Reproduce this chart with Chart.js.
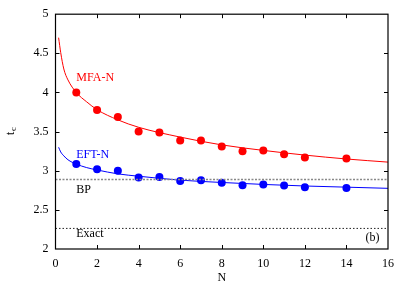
<!DOCTYPE html>
<html>
<head>
<meta charset="utf-8">
<script src="https://cdn.jsdelivr.net/npm/chart.js@4.4.0/dist/chart.umd.min.js"></script>
<style>
  html, body { margin: 0; padding: 0; background: #fff; }
  #wrap { width: 409px; height: 286px; }
</style>
</head>
<body>
<div id="wrap"><canvas id="myChart" width="409" height="286"></canvas></div>
<script>
// 데이터
var sizeN = [1, 2, 3, 4, 5, 6, 7, 8, 9, 10, 11, 12, 14];
var mfaValues = [4.00, 3.775, 3.685, 3.50, 3.49, 3.385, 3.385, 3.31, 3.25, 3.26, 3.21, 3.17, 3.155];
var eftValues = [3.085, 3.02, 3.00, 2.915, 2.92, 2.87, 2.88, 2.845, 2.815, 2.825, 2.81, 2.79, 2.78];

// 맞춤 곡선 (그림에서 읽은 점)
var fitN = [0.15, 0.25, 0.4, 0.6, 1, 1.5, 2, 3, 4, 6, 8, 10, 12, 14, 16];
var mfaFit = [4.70, 4.51, 4.30, 4.16, 4.00, 3.88, 3.78, 3.65, 3.555, 3.43, 3.33, 3.26, 3.20, 3.15, 3.11];
var eftFit = [3.30, 3.24, 3.19, 3.14, 3.085, 3.04, 3.01, 2.96, 2.93, 2.88, 2.85, 2.825, 2.805, 2.79, 2.775];

var bpLevel = 2.888;
var exactLevel = 2.263;
var xRange = [0, 16];

var xTicks = [0, 2, 4, 6, 8, 10, 12, 14, 16];
var yTicks = [2, 2.5, 3, 3.5, 4, 4.5, 5];

var FONT = 'Liberation Serif';

function toPoints(xs, ys) {
	return xs.map(function(x, i) { return { x: x, y: ys[i] }; });
}

// 안쪽 눈금, 글자 그리기
var decorPlugin = {
	id: 'decor',
	afterDraw: function(chart) {
		var c = chart.ctx;
		var xs = chart.scales.x, ys = chart.scales.y;
		var a = chart.chartArea;
		c.save();
		c.strokeStyle = '#000';
		c.lineWidth = 1;
		c.beginPath();
		xTicks.forEach(function(v) {
			var px = Math.round(xs.getPixelForValue(v)) + 0.5;
			if (v > xRange[0] && v < xRange[1]) {
				c.moveTo(px, a.bottom); c.lineTo(px, a.bottom - 4);
				c.moveTo(px, a.top); c.lineTo(px, a.top + 4);
			}
		});
		yTicks.forEach(function(v) {
			var py = Math.round(ys.getPixelForValue(v)) + 0.5;
			if (v > 2 && v < 5) {
				c.moveTo(a.left, py); c.lineTo(a.left + 4, py);
				c.moveTo(a.right, py); c.lineTo(a.right - 4, py);
			}
		});
		c.stroke();
		c.lineWidth = 1.2;
		c.strokeRect(a.left, a.top, a.right - a.left, a.bottom - a.top);

		// 곡선 이름
		c.font = '12px "' + FONT + '"';
		c.textAlign = 'left';
		c.textBaseline = 'middle';
		c.fillStyle = '#ff0000';
		c.fillText('MFA-N', xs.getPixelForValue(1), ys.getPixelForValue(4.19));
		c.fillStyle = '#0000ff';
		c.fillText('EFT-N', xs.getPixelForValue(1), ys.getPixelForValue(3.20));
		c.fillStyle = '#000';
		c.fillText('BP', xs.getPixelForValue(1), ys.getPixelForValue(2.75));
		c.fillText('Exact', xs.getPixelForValue(1), ys.getPixelForValue(2.195));
		c.textAlign = 'center';
		c.fillText('(b)', xs.getPixelForValue(15.25), ys.getPixelForValue(2.14));

		// 축 제목
		c.font = '12px "' + FONT + '"';
		c.fillText('N', (a.left + a.right) / 2, 278);
		c.save();
		c.translate(11, 131);
		c.rotate(-Math.PI / 2);
		c.textAlign = 'left';
		c.fillText('t', -4, 0);
		c.font = '9px "' + FONT + '"';
		c.fillText('c', 0, 3);
		c.restore();
		c.restore();
	}
};

var ctx = document.getElementById('myChart');
var data = {
	datasets: [
		{
			label: 'Exact',
			data: toPoints(xRange, [exactLevel, exactLevel]),
			showLine: true,
			borderColor: '#222',
			borderWidth: 1,
			borderDash: [1.5, 2],
			pointRadius: 0
		},
		{
			label: 'BP',
			data: toPoints(xRange, [bpLevel, bpLevel]),
			showLine: true,
			borderColor: '#888',
			borderWidth: 1.5,
			borderDash: [2, 1.5],
			pointRadius: 0
		},
		{
			label: 'MFA-N fit',
			data: toPoints(fitN, mfaFit),
			showLine: true,
			borderColor: '#ff0000',
			borderWidth: 1,
			pointRadius: 0,
			cubicInterpolationMode: 'monotone'
		},
		{
			label: 'EFT-N fit',
			data: toPoints(fitN, eftFit),
			showLine: true,
			borderColor: '#0000ff',
			borderWidth: 1,
			pointRadius: 0,
			cubicInterpolationMode: 'monotone'
		},
		{
			label: 'MFA-N',
			data: toPoints(sizeN, mfaValues),
			showLine: false,
			pointRadius: 4,
			pointBackgroundColor: '#ff0000',
			pointBorderColor: '#ff0000',
			pointBorderWidth: 0
		},
		{
			label: 'EFT-N',
			data: toPoints(sizeN, eftValues),
			showLine: false,
			pointRadius: 4,
			pointBackgroundColor: '#0000ff',
			pointBorderColor: '#0000ff',
			pointBorderWidth: 0
		}
	]
};

var options = {
	responsive: false,
	animation: false,
	events: [],
	layout: { padding: { top: 13, right: 21, left: 0, bottom: 0 } },
	plugins: { legend: { display: false }, tooltip: { enabled: false } },
	scales: {
		x: {
			type: 'linear',
			min: 0, max: 16,
			grid: { display: false, drawTicks: false },
			border: { display: false },
			afterBuildTicks: function(s) { s.ticks = xTicks.map(function(v) { return { value: v }; }); },
			afterFit: function(s) { s.height = 37; },
			ticks: {
				color: '#000', padding: 8,
				font: { family: FONT, size: 12 },
				callback: function(v) { return v; }
			}
		},
		y: {
			type: 'linear',
			min: 2, max: 5,
			grid: { display: false, drawTicks: false },
			border: { display: false },
			afterBuildTicks: function(s) { s.ticks = yTicks.map(function(v) { return { value: v }; }); },
			afterFit: function(s) { s.width = 55.5; },
			ticks: {
				color: '#000', padding: 7,
				font: { family: FONT, size: 12 },
				callback: function(v) { return v; }
			}
		}
	}
};

var myChart = new Chart(ctx, {
	type: 'scatter',
	data: data,
	options: options,
	plugins: [decorPlugin]
});
</script>
</body>
</html>
